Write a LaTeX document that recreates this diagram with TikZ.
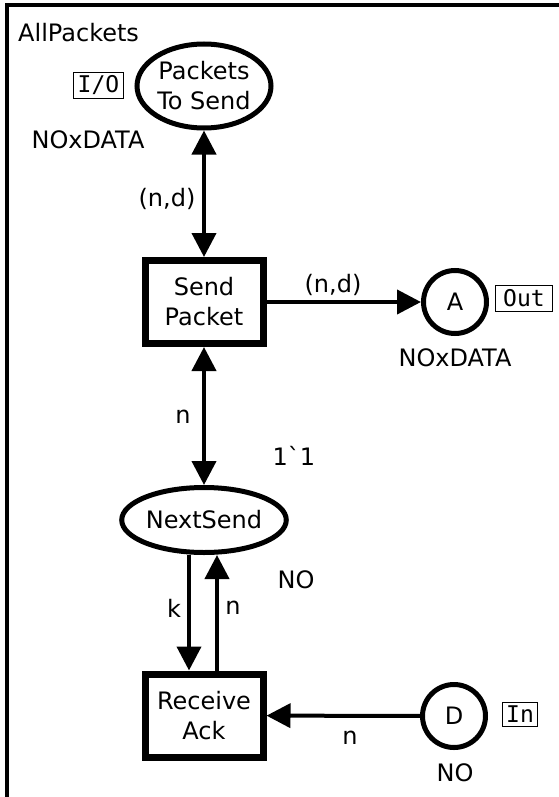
\documentclass[tikz,border=0pt]{standalone}
\usepackage{fontspec}
\setmainfont{DejaVu Sans}
\newfontfamily\tagfont{DejaVu Sans Mono}
\newfontfamily\rawfont{DejaVu Sans}[Ligatures=TeXOff]
\usetikzlibrary{shapes.geometric,arrows.meta}
\begin{document}
\begin{tikzpicture}[x=1pt,y=-1pt,font=\fontsize{24}{30}\selectfont,
  place/.style={draw,line width=5pt,inner sep=0pt,align=center},
  trans/.style={draw,rectangle,line width=7pt,minimum width=118pt,minimum height=83pt,inner sep=0pt,align=center},
  arc/.style={line width=4pt,-{Triangle[length=24pt,width=24pt]}},
  arcboth/.style={line width=4pt,{Triangle[length=24pt,width=24pt]}-{Triangle[length=24pt,width=24pt]}},
  tag/.style={draw,line width=1pt,inner sep=0pt,font=\tagfont\fontsize{23}{25}\selectfont},
  lbl/.style={inner sep=0pt}]
\useasboundingbox (0,0) rectangle (558,797);
\draw[line width=4pt] (7,805) -- (7,5) -- (565,5);
\node[lbl,anchor=west] (title) at (18,33) {AllPackets};
\node[place,ellipse,minimum width=134pt,minimum height=84pt] (pts) at (204,86) {Packets\\To Send};
\node[tag,minimum width=50pt,minimum height=26pt] (io) at (98.5,85.5) {I/O};
\node[lbl] (ptsT) at (88,140) {NOxDATA};
\node[trans] (sp) at (204,302) {Send\\Packet};
\node[place,circle,minimum size=63pt] (A) at (455,302) {A};
\node[tag,minimum width=57pt,minimum height=26pt] (out) at (524,298.5) {Out};
\node[lbl] (AT) at (455,358) {NOxDATA};
\node[place,ellipse,minimum width=138pt,minimum height=65pt] (ns) at (204,520) {NextSend};
\node[lbl] (nsI) at (294,456) {\rawfont 1`1};
\node[lbl] (nsT) at (296,580) {NO};
\node[trans] (ra) at (204,715.5) {Receive\\Ack};
\node[place,circle,minimum size=63pt] (D) at (454,716) {D};
\node[tag,minimum width=35pt,minimum height=24pt] (in) at (520,714.5) {In};
\node[lbl] (DT) at (455,773) {NO};
\draw[arcboth] (sp) -- (pts);
\draw[arc] (sp) -- (A);
\draw[arcboth] (sp) -- (ns);
\draw[arc] ([xshift=-15pt]ns.south) -- ([xshift=-15pt]ra.north);
\draw[arc] ([xshift=13pt]ra.north) -- ([xshift=13pt]ns.south);
\draw[arc] (D) -- (ra);
\node[lbl] (l1) at (167,199) {(n,d)};
\node[lbl] (l2) at (333,285) {(n,d)};
\node[lbl] (l3) at (183,417) {n};
\node[lbl] (l4) at (174,608) {k};
\node[lbl] (l5) at (233,608) {n};
\node[lbl] (l6) at (350,738) {n};
\end{tikzpicture}
\end{document}
